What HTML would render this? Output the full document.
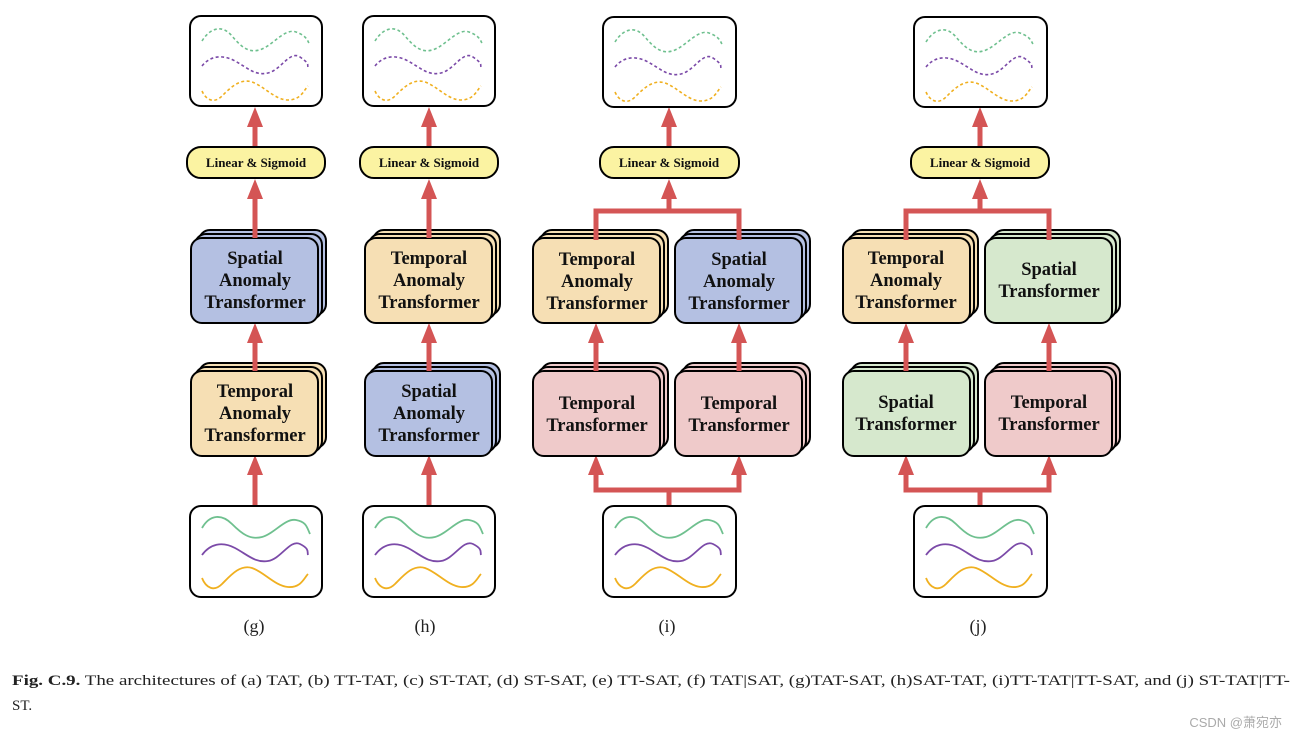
<!DOCTYPE html>
<html><head><meta charset="utf-8"><style>
html,body{margin:0;padding:0;background:#fff;width:1297px;height:739px;overflow:hidden}
svg{display:block}
.b{font-family:"Liberation Serif",serif;font-weight:bold;font-size:18.5px;text-anchor:middle;fill:#111}
.ls{font-family:"Liberation Serif",serif;font-weight:bold;font-size:13px;text-anchor:middle;fill:#111}
.lab{font-family:"Liberation Serif",serif;font-size:18px;text-anchor:middle;fill:#222}
.cap{font-family:"Liberation Serif",serif;font-size:15px;fill:#222}
</style></head><body>
<svg width="1297" height="739" viewBox="0 0 1297 739" xmlns="http://www.w3.org/2000/svg">
<defs>
<g id="wd" fill="none" stroke-width="1.6" stroke-dasharray="3,2.5">
<path stroke="#6fc08f" d="M12,25 C20,12 32,8 42,20 S60,38 72,33 S95,12 106,16 S117,24 120,29"/>
<path stroke="#7b4aa8" d="M12,50 C20,40 32,38 45,45 S65,60 78,57 S100,34 110,41 S117,48 118,51"/>
<path stroke="#f0b020" d="M12,75 C16,84 24,88 32,80 S50,62 62,66 S85,84 98,84 S114,74 118,70"/>
</g>
<g id="ws" fill="none" stroke-width="1.8">
<path stroke="#6fc08f" d="M12,22 C20,8 32,8 42,18 S60,34 72,31 S95,12 106,14 S117,22 120,28"/>
<path stroke="#7b4aa8" d="M12,49 C20,38 32,35 45,42 S65,57 78,55 S100,33 110,38 S117,46 118,49"/>
<path stroke="#f0b020" d="M12,72 C16,82 24,86 32,78 S50,58 62,62 S85,80 98,81 S114,72 118,68"/>
</g>
</defs>

<g stroke="#d45555" stroke-width="5" fill="none">
<!-- g -->
<line x1="255" y1="506" x2="255" y2="470"/><line x1="255" y1="370" x2="255" y2="338"/>
<line x1="255" y1="236" x2="255" y2="194"/><line x1="255" y1="147" x2="255" y2="122"/>
<!-- h -->
<line x1="429" y1="506" x2="429" y2="470"/><line x1="429" y1="370" x2="429" y2="338"/>
<line x1="429" y1="236" x2="429" y2="194"/><line x1="429" y1="147" x2="429" y2="122"/>
<!-- i -->
<polyline points="669,506 669,490 596,490 596,470"/><polyline points="669,490 739,490 739,470"/>
<line x1="596" y1="370" x2="596" y2="338"/><line x1="739" y1="370" x2="739" y2="338"/>
<polyline points="596,240 596,211 739,211 739,240"/><line x1="669" y1="211" x2="669" y2="194"/>
<line x1="669" y1="147" x2="669" y2="122"/>
<!-- j -->
<polyline points="980,506 980,490 906,490 906,470"/><polyline points="980,490 1049,490 1049,470"/>
<line x1="906" y1="370" x2="906" y2="338"/><line x1="1049" y1="370" x2="1049" y2="338"/>
<polyline points="906,240 906,211 1049,211 1049,240"/><line x1="980" y1="211" x2="980" y2="194"/>
<line x1="980" y1="147" x2="980" y2="122"/>
</g>
<g fill="#d45555">
<polygon points="247,475 263,475 255,455"/><polygon points="247,343 263,343 255,323"/><polygon points="247,199 263,199 255,179"/><polygon points="247,127 263,127 255,107"/>
<polygon points="421,475 437,475 429,455"/><polygon points="421,343 437,343 429,323"/><polygon points="421,199 437,199 429,179"/><polygon points="421,127 437,127 429,107"/>
<polygon points="588,475 604,475 596,455"/><polygon points="731,475 747,475 739,455"/><polygon points="588,343 604,343 596,323"/><polygon points="731,343 747,343 739,323"/><polygon points="661,199 677,199 669,179"/><polygon points="661,127 677,127 669,107"/>
<polygon points="898,475 914,475 906,455"/><polygon points="1041,475 1057,475 1049,455"/><polygon points="898,343 914,343 906,323"/><polygon points="1041,343 1057,343 1049,323"/><polygon points="972,199 988,199 980,179"/><polygon points="972,127 988,127 980,107"/>
</g>

<g stroke="#000" stroke-width="2">
<!-- charts -->
<rect x="190" y="16" width="132" height="90" rx="11" fill="#fff"/>
<rect x="363" y="16" width="132" height="90" rx="11" fill="#fff"/>
<rect x="603" y="17" width="133" height="90" rx="11" fill="#fff"/>
<rect x="914" y="17" width="133" height="90" rx="11" fill="#fff"/>
<rect x="190" y="506" width="132" height="91" rx="11" fill="#fff"/>
<rect x="363" y="506" width="132" height="91" rx="11" fill="#fff"/>
<rect x="603" y="506" width="133" height="91" rx="11" fill="#fff"/>
<rect x="914" y="506" width="133" height="91" rx="11" fill="#fff"/>
<!-- linear -->
<rect x="187" y="147" width="138" height="31" rx="14" fill="#fbf3a2"/>
<rect x="360" y="147" width="138" height="31" rx="14" fill="#fbf3a2"/>
<rect x="600" y="147" width="139" height="31" rx="14" fill="#fbf3a2"/>
<rect x="911" y="147" width="138" height="31" rx="14" fill="#fbf3a2"/>
</g>
<use href="#wd" x="190" y="16"/><use href="#wd" x="363" y="16"/><use href="#wd" x="603" y="17"/><use href="#wd" x="914" y="17"/>
<use href="#ws" x="190" y="506"/><use href="#ws" x="363" y="506"/><use href="#ws" x="603" y="506"/><use href="#ws" x="914" y="506"/>

<g stroke="#000" stroke-width="2">
<!-- module stacks: blue b4c0e2, orange f6dfb4, pink efcaca, green d6e8cd -->
<g fill="#b4c0e2"><rect x="199" y="230" width="127" height="85" rx="11"/><rect x="195" y="234" width="127" height="85" rx="11"/><rect x="191" y="238" width="127" height="85" rx="11"/></g>
<g fill="#f6dfb4"><rect x="199" y="363" width="127" height="85" rx="11"/><rect x="195" y="367" width="127" height="85" rx="11"/><rect x="191" y="371" width="127" height="85" rx="11"/></g>
<g fill="#f6dfb4"><rect x="373" y="230" width="127" height="85" rx="11"/><rect x="369" y="234" width="127" height="85" rx="11"/><rect x="365" y="238" width="127" height="85" rx="11"/></g>
<g fill="#b4c0e2"><rect x="373" y="363" width="127" height="85" rx="11"/><rect x="369" y="367" width="127" height="85" rx="11"/><rect x="365" y="371" width="127" height="85" rx="11"/></g>
<g fill="#f6dfb4"><rect x="541" y="230" width="127" height="85" rx="11"/><rect x="537" y="234" width="127" height="85" rx="11"/><rect x="533" y="238" width="127" height="85" rx="11"/></g>
<g fill="#b4c0e2"><rect x="683" y="230" width="127" height="85" rx="11"/><rect x="679" y="234" width="127" height="85" rx="11"/><rect x="675" y="238" width="127" height="85" rx="11"/></g>
<g fill="#efcaca"><rect x="541" y="363" width="127" height="85" rx="11"/><rect x="537" y="367" width="127" height="85" rx="11"/><rect x="533" y="371" width="127" height="85" rx="11"/></g>
<g fill="#efcaca"><rect x="683" y="363" width="127" height="85" rx="11"/><rect x="679" y="367" width="127" height="85" rx="11"/><rect x="675" y="371" width="127" height="85" rx="11"/></g>
<g fill="#f6dfb4"><rect x="851" y="230" width="127" height="85" rx="11"/><rect x="847" y="234" width="127" height="85" rx="11"/><rect x="843" y="238" width="127" height="85" rx="11"/></g>
<g fill="#d6e8cd"><rect x="993" y="230" width="127" height="85" rx="11"/><rect x="989" y="234" width="127" height="85" rx="11"/><rect x="985" y="238" width="127" height="85" rx="11"/></g>
<g fill="#d6e8cd"><rect x="851" y="363" width="127" height="85" rx="11"/><rect x="847" y="367" width="127" height="85" rx="11"/><rect x="843" y="371" width="127" height="85" rx="11"/></g>
<g fill="#efcaca"><rect x="993" y="363" width="127" height="85" rx="11"/><rect x="989" y="367" width="127" height="85" rx="11"/><rect x="985" y="371" width="127" height="85" rx="11"/></g>
</g>
<g stroke="#d45555" stroke-width="5">
<line x1="596" y1="228" x2="596" y2="240"/><line x1="739" y1="228" x2="739" y2="240"/>
<line x1="906" y1="228" x2="906" y2="240"/><line x1="1049" y1="228" x2="1049" y2="240"/>
<line x1="255" y1="228" x2="255" y2="238"/><line x1="429" y1="228" x2="429" y2="238"/>
<line x1="255" y1="361" x2="255" y2="371"/><line x1="429" y1="361" x2="429" y2="371"/>
<line x1="596" y1="361" x2="596" y2="371"/><line x1="739" y1="361" x2="739" y2="371"/>
<line x1="906" y1="361" x2="906" y2="371"/><line x1="1049" y1="361" x2="1049" y2="371"/>
</g>

<g class="ls"><text x="256" y="167">Linear &amp; Sigmoid</text><text x="429" y="167">Linear &amp; Sigmoid</text><text x="669" y="167">Linear &amp; Sigmoid</text><text x="980" y="167">Linear &amp; Sigmoid</text></g>
<g class="b">
<text x="255" y="264">Spatial</text><text x="255" y="286">Anomaly</text><text x="255" y="308">Transformer</text>
<text x="255" y="397">Temporal</text><text x="255" y="419">Anomaly</text><text x="255" y="441">Transformer</text>
<text x="429" y="264">Temporal</text><text x="429" y="286">Anomaly</text><text x="429" y="308">Transformer</text>
<text x="429" y="397">Spatial</text><text x="429" y="419">Anomaly</text><text x="429" y="441">Transformer</text>
<text x="597" y="265">Temporal</text><text x="597" y="287">Anomaly</text><text x="597" y="309">Transformer</text>
<text x="739" y="265">Spatial</text><text x="739" y="287">Anomaly</text><text x="739" y="309">Transformer</text>
<text x="597" y="409">Temporal</text><text x="597" y="431">Transformer</text>
<text x="739" y="409">Temporal</text><text x="739" y="431">Transformer</text>
<text x="906" y="264">Temporal</text><text x="906" y="286">Anomaly</text><text x="906" y="308">Transformer</text>
<text x="1049" y="275">Spatial</text><text x="1049" y="297">Transformer</text>
<text x="906" y="408">Spatial</text><text x="906" y="430">Transformer</text>
<text x="1049" y="408">Temporal</text><text x="1049" y="430">Transformer</text>
</g>
<g class="lab"><text x="254" y="632">(g)</text><text x="425" y="632">(h)</text><text x="667" y="632">(i)</text><text x="978" y="632">(j)</text></g>
<text class="cap" x="12" y="685" textLength="1278" lengthAdjust="spacingAndGlyphs"><tspan font-weight="bold">Fig. C.9.</tspan> The architectures of (a) TAT, (b) TT-TAT, (c) ST-TAT, (d) ST-SAT, (e) TT-SAT, (f) TAT|SAT, (g)TAT-SAT, (h)SAT-TAT, (i)TT-TAT|TT-SAT, and (j) ST-TAT|TT-</text>
<text class="cap" x="12" y="710">ST.</text>
<text x="1282" y="727" text-anchor="end" style="font-family:'Liberation Sans','Noto Sans CJK SC',sans-serif;font-size:13px;fill:#aaa">CSDN @萧宛亦</text>
</svg>
</body></html>
